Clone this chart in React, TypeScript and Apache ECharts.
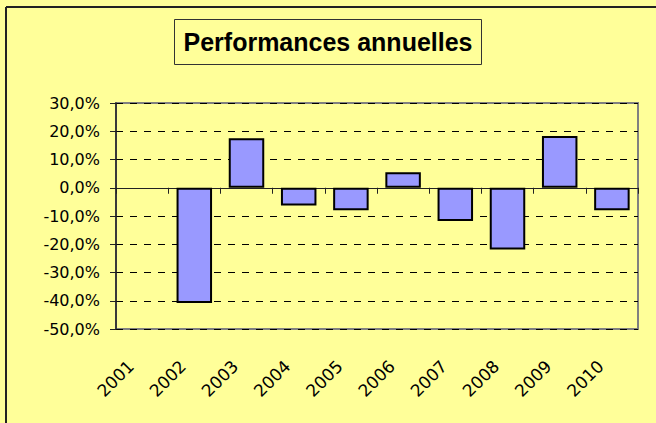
import React, { useEffect, useRef } from "react";
import * as echarts from "echarts";

const years = ["2001", "2002", "2003", "2004", "2005", "2006", "2007", "2008", "2009", "2010"];
const performances: (number | null)[] = [null, -40.8, 17.5, -6.3, -8.0, 5.5, -11.8, -21.9, 18.3, -8.0];
const titleText = "Performances annuelles";
const yMin = -50;
const yMax = 30;
const yStep = 10;

export default function App() {
  const ref = useRef<HTMLDivElement>(null);
  useEffect(() => {
    if (!ref.current) return;
    const chart = echarts.init(ref.current, undefined, { renderer: "svg" });
    const axisFont = "DejaVu Sans";
    chart.setOption({
      animation: false,
      backgroundColor: "#FFFF99",
      title: {
        text: titleText,
        left: "center",
        top: 19,
        padding: [10, 9],
        borderColor: "#333",
        borderWidth: 1,
        textStyle: {
          fontFamily: "Liberation Sans",
          fontWeight: "bold",
          fontSize: 25,
          lineHeight: 26,
          color: "#000",
        },
      },
      graphic: [
        { type: "line", shape: { x1: 6, y1: 7, x2: 656, y2: 7 }, style: { stroke: "#222", lineWidth: 2 } },
        { type: "line", shape: { x1: 6, y1: 7, x2: 6, y2: 423 }, style: { stroke: "#222", lineWidth: 2 } },
      ],
      grid: {
        left: 116,
        right: 18,
        top: 103,
        bottom: 94,
        show: true,
        borderColor: "#808080",
        borderWidth: 2,
        backgroundColor: "transparent",
      },
      xAxis: [
        {
          type: "category",
          data: years,
          position: "bottom",
          axisLine: { show: false, onZero: false },
          axisTick: { show: false },
          axisLabel: {
            rotate: 45,
            margin: 23,
            padding: [0, 16, 0, 0],
            fontFamily: axisFont,
            fontSize: 17,
            color: "#000",
            interval: 0,
          },
        },
        {
          type: "category",
          data: years,
          position: "bottom",
          axisLine: { show: true, onZero: true, lineStyle: { color: "#222", width: 1 } },
          axisTick: { show: true, length: 6, lineStyle: { color: "#222", width: 1 } },
          axisLabel: { show: false },
        },
      ],
      yAxis: {
        type: "value",
        min: yMin,
        max: yMax,
        interval: yStep,
        axisLine: { show: true, lineStyle: { color: "#222", width: 1.5 } },
        axisTick: { show: true, length: 6, lineStyle: { color: "#222" } },
        axisLabel: {
          margin: 16,
          fontFamily: axisFont,
          fontSize: 16,
          color: "#000",
          formatter: (v: number) => v.toFixed(1).replace(".", ",") + "%",
        },
        splitLine: { show: true, lineStyle: { color: "#000", type: [7, 7], width: 1 } },
      },
      series: [
        {
          type: "bar",
          xAxisIndex: 0,
          data: performances,
          barWidth: "68%",
          itemStyle: { color: "#9999FF", borderColor: "#000", borderWidth: 2 },
        },
      ],
    });
    return () => chart.dispose();
  }, []);
  return (
    <div
      ref={ref}
      style={{ position: "absolute", left: 0, top: 0, width: 656, height: 423 }}
    />
  );
}
